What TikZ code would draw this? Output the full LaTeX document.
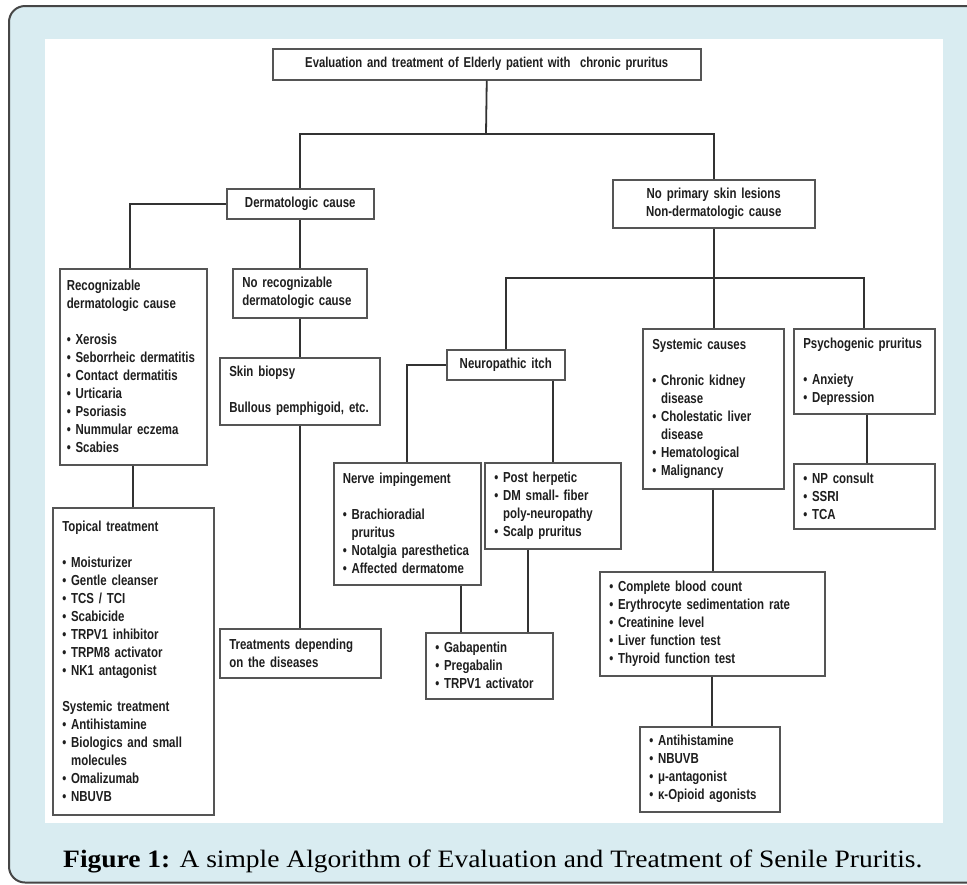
\documentclass[tikz,border=0pt]{standalone}
\usepackage{fontspec}
\newfontfamily\diagfont[FakeStretch=0.79]{Liberation Sans}
\newfontfamily\capfont[FakeStretch=1.1]{Liberation Serif}
\definecolor{capblue}{RGB}{217,236,241}
\definecolor{framegray}{RGB}{70,70,70}
\definecolor{boxgray}{RGB}{85,85,85}
\definecolor{linegray}{RGB}{50,50,50}
\definecolor{txt}{RGB}{30,30,30}
\newcommand\bu{\textbullet\ }
\newcommand\hi{\phantom{\textbullet\ }}
\tikzset{
  bx/.style={draw=boxgray, line width=1.5pt, fill=white, anchor=north west,
    inner xsep=9.5pt, inner ysep=0pt, align=left, text=txt,
    font=\diagfont\bfseries\fontsize{14.5}{18}\selectfont},
  cbx/.style={bx, align=center},
  conn/.style={draw=linegray, line width=1.8pt},
}
\begin{document}
\begin{tikzpicture}[x=1pt,y=-1pt]
\useasboundingbox (0,0) rectangle (967,884);
\clip (0,0) rectangle (967,884);
\fill[white] (0,0) rectangle (967,884);
\draw[fill=capblue, draw=framegray, line width=2pt, rounded corners=16pt] (9,6) rectangle (1000,882.5);
\fill[white] (45,39) rectangle (943,823);

% boxes
\node[cbx, minimum width=428pt, minimum height=31pt, text width=409pt,
  font=\diagfont\bfseries\fontsize{14.3}{18}\selectfont] (top) at (272,48)
  {Evaluation and treatment of Elderly patient with \ chronic pruritus};
\node[cbx, minimum width=147pt, minimum height=30pt, text width=128pt] (derm) at (226,188) {Dermatologic cause};
\node[cbx, minimum width=202pt, minimum height=48pt, text width=183pt] (noprim) at (612,179) {No primary skin lesions\\ Non-dermatologic cause};
\node[bx, minimum width=147pt, minimum height=196pt, text width=133pt, inner xsep=7pt] (recog) at (59,268)
  {Recognizable\\ dermatologic cause\\[18pt] \bu Xerosis\\ \bu Seborrheic dermatitis\\ \bu Contact dermatitis\\ \bu Urticaria\\ \bu Psoriasis\\ \bu Nummular eczema\\ \bu Scabies};
\node[bx, minimum width=134pt, minimum height=49pt, text width=115pt] (norecog) at (232,268)
  {No recognizable\\ dermatologic cause};
\node[bx, minimum width=160pt, minimum height=67pt, text width=141pt] (biopsy) at (219,357)
  {Skin biopsy\\[18pt] Bullous pemphigoid, etc.};
\node[bx, minimum width=161pt, minimum height=49pt, text width=142pt] (treat) at (219,628)
  {Treatments depending\\ on the diseases};
\node[bx, minimum width=161pt, minimum height=307pt, text width=142pt] (topical) at (52,507)
  {Topical treatment\\[18pt] \bu Moisturizer\\ \bu Gentle cleanser\\ \bu TCS / TCI\\ \bu Scabicide\\ \bu TRPV1 inhibitor\\ \bu TRPM8 activator\\ \bu NK1 antagonist\\[18pt] Systemic treatment\\ \bu Antihistamine\\ \bu Biologics and small\\ \hi molecules\\ \bu Omalizumab\\ \bu NBUVB};
\node[cbx, minimum width=118pt, minimum height=30pt, text width=99pt] (neuro) at (446,349) {Neuropathic itch};
\node[bx, minimum width=147pt, minimum height=122pt, text width=129pt, inner xsep=9pt] (nerve) at (333,462)
  {Nerve impingement\\[18pt] \bu Brachioradial\\ \hi pruritus\\ \bu Notalgia paresthetica\\ \bu Affected dermatome};
\node[bx, minimum width=136pt, minimum height=86pt, text width=117pt] (post) at (484,462)
  {\bu Post herpetic\\ \bu DM small- fiber\\ \hi poly-neuropathy\\ \bu Scalp pruritus};
\node[bx, minimum width=127pt, minimum height=66pt, text width=108pt] (gaba) at (425,632)
  {\bu Gabapentin\\ \bu Pregabalin\\ \bu TRPV1 activator};
\node[bx, minimum width=141pt, minimum height=160pt, text width=122pt] (syst) at (642,328)
  {Systemic causes\\[18pt] \bu Chronic kidney\\ \hi disease\\ \bu Cholestatic liver\\ \hi disease\\ \bu Hematological\\ \bu Malignancy};
\node[bx, minimum width=141pt, minimum height=85pt, text width=122pt] (psych) at (793,328)
  {Psychogenic pruritus\\[18pt] \bu Anxiety\\ \bu Depression};
\node[bx, minimum width=141pt, minimum height=65pt, text width=122pt] (np) at (793,463)
  {\bu NP consult\\ \bu SSRI\\ \bu TCA};
\node[bx, minimum width=225pt, minimum height=104pt, text width=206pt] (cbc) at (599,571)
  {\bu Complete blood count\\ \bu Erythrocyte sedimentation rate\\ \bu Creatinine level\\ \bu Liver function test\\ \bu Thyroid function test};
\node[bx, minimum width=140pt, minimum height=85pt, text width=121pt] (anti) at (639,726)
  {\bu Antihistamine\\ \bu NBUVB\\ \bu μ-antagonist\\ \bu κ-Opioid agonists};

% junctions
\coordinate (jtop) at (486,134);
\coordinate (jright) at (713,278);

% connectors
\draw[conn] (top.south) -- (jtop);
\draw[conn] (derm.north) |- (jtop) -| (noprim.north);
\draw[conn] (derm.west) -| ([xshift=-3.5pt]recog.north);
\draw[conn] (derm.south) -- (derm.south |- norecog.north);
\draw[conn] (norecog.south) -- (norecog.south |- biopsy.north);
\draw[conn] (biopsy.south) -- (biopsy.south |- treat.north);
\draw[conn] (recog.south) -- (topical.north);
\draw[conn] (noprim.south) -- (noprim.south |- syst.north);
\draw[conn] (neuro.north) |- (jright) -| (psych.north);
\draw[conn] (neuro.west) -| (nerve.north);
\draw[conn] (post.north) -- (post.north |- neuro.south);
\draw[conn] ([xshift=53.5pt]nerve.south) -- ([xshift=53.5pt]nerve.south |- gaba.north);
\draw[conn] ([xshift=-25pt]post.south) -- ([xshift=-25pt]post.south |- gaba.north);
\draw[conn] ([xshift=3pt]psych.south) -- ([xshift=3pt]psych.south |- np.north);
\draw[conn] (syst.south) -- (syst.south |- cbc.north);
\draw[conn] (cbc.south) -- (cbc.south |- anti.north);

% caption
\node[anchor=base west, inner sep=0pt, text=black, font=\capfont\fontsize{25}{30}\selectfont] (cap) at (63,867)
  {\textbf{Figure 1:} A simple Algorithm of Evaluation and Treatment of Senile Pruritis.};
\end{tikzpicture}
\end{document}
